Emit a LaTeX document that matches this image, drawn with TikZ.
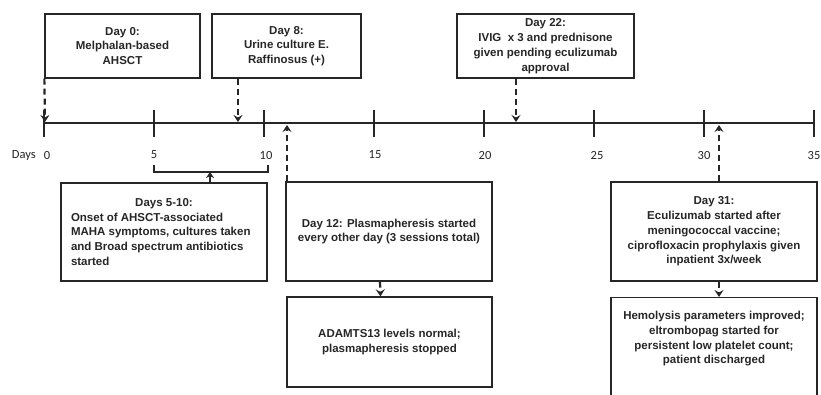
\documentclass[tikz,border=0pt]{standalone}
\usepackage{fontspec}
\setmainfont{Liberation Sans}
\newfontfamily\tickfont{Carlito}
\usetikzlibrary{arrows.meta}

\begin{document}
\begin{tikzpicture}[x=1pt,y=-1pt,
    event/.style={draw=black!85, line width=1.3pt, align=center, inner sep=0pt,
      font=\fontsize{11.5}{14.8}\selectfont\bfseries, text=black!85},
    link/.style={draw=black!85, line width=2.2pt, dash pattern=on 6pt off 4pt,
      -{Stealth[length=7pt,width=9pt,inset=2.5pt]}},
    bar/.style={draw=black!85, line width=1.3pt},
    daylabel/.style={font=\tickfont\fontsize{12.5}{14}\selectfont, text=black!85},
  ]
    \useasboundingbox (0,0) rectangle (821,395);
    \def\u{22}
    \def\o{44}
    % timeline
    \coordinate (t0) at (\o,123);
    \coordinate (t35) at (815,123);
    \draw [draw=black!85, line width=2.6pt] (t0) -- (t35);
    \foreach \d/\lx in {0/47,5/154,10/266,15/375,20/485,25/597,30/704,35/814} {
      \draw [bar] (\o+\u*\d,110) -- (\o+\u*\d,137);
      \node [daylabel] (n\d) at (\lx,155) {\d};
    }
    \node [daylabel, anchor=east] (days) at ([xshift=-1pt]n0.west) {Days};
    % events above
    \node [event, minimum width=155pt, minimum height=64pt] (d0) at (122.5,46)
      {Day 0:\\Melphalan-based\\AHSCT};
    \node [event, minimum width=149pt, minimum height=64pt] (d8) at (286.5,46)
      {Day 8:\\Urine culture E.\\Raffinosus (+)};
    \node [event, minimum width=177pt, minimum height=64pt] (d22) at (545.5,46)
      {Day 22:\\IVIG~ x 3 and prednisone\\given pending eculizumab\\approval};
    \coordinate (a0) at (45,122);
    \coordinate (a8) at (238,122);
    \coordinate (a22) at (516,122);
    \path (d0.south west) edge [link] (a0);
    \path (d8.south -| a8) edge [link] (a8);
    \path (d22.south -| a22) edge [link] (a22);
    % events below
    \node [event, minimum width=206pt, minimum height=98pt, align=left] (d510) at (164,232)
      {\makebox[186pt]{Days 5-10:}\\Onset of AHSCT-associated\\MAHA symptoms, cultures taken\\and Broad spectrum antibiotics\\started};
    \node [event, minimum width=206pt, minimum height=99pt] (d12) at (389,231.5)
      {\raisebox{-3pt}{\parbox{200pt}{\centering Day 12: Plasmapheresis started\\every other day (3 sessions total)}}};
    \node [event, minimum width=205pt, minimum height=90pt] (adam) at (389.5,342)
      {ADAMTS13 levels normal;\\plasmapheresis stopped};
    \node [event, minimum width=206pt, minimum height=99pt] (d31) at (714,231.5)
      {Day 31:\\Eculizumab started after\\meningococcal vaccine;\\ciprofloxacin prophylaxis given\\inpatient 3x/week};
    \node [event, minimum width=206pt, minimum height=103pt, anchor=north] (hemo) at (714,297)
      {\parbox[c][76pt][t]{200pt}{\centering Hemolysis parameters improved;\\eltrombopag started for\\persistent low platelet count;\\patient discharged}};
    % bracket for days 5-10
    \coordinate (b5) at (154,165);
    \coordinate (b10) at (268,165);
    \coordinate (b) at (210,172);
    \draw [bar] (b5) -- ++(0,7) -| (b10);
    \path (d510.north -| b) edge [bar, -{Stealth[length=6pt,width=8pt,inset=2pt]}] (b);
    \coordinate (a12) at (287,125);
    \coordinate (a31) at (719,125);
    \path (d12.north -| a12) edge [link] (a12);
    \path (d31.north -| a31) edge [link] (a31);
    \path ([xshift=-9pt]d12.south) edge [link] ([xshift=-9pt]adam.north);
    \path ([xshift=5pt]d31.south) edge [link] ([xshift=5pt]hemo.north);
\end{tikzpicture}
\end{document}
